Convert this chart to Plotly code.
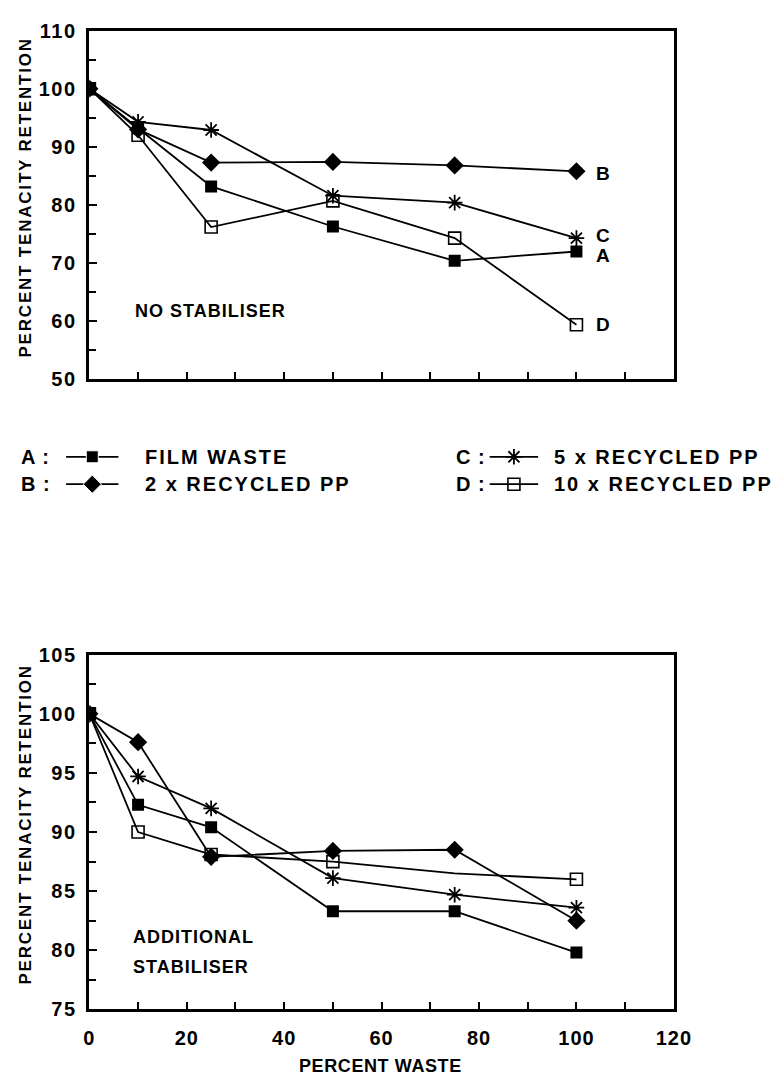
import plotly.graph_objects as go

# Percent of waste material blended in
waste_pct = [0, 10, 25, 50, 75, 100]

series_names = ["FILM WASTE", "2 x RECYCLED PP", "5 x RECYCLED PP", "10 x RECYCLED PP"]
series_keys = ["A", "B", "C", "D"]

# Tenacity retention (%), no stabiliser
ns_film = [100, 93.2, 83.2, 76.3, 70.4, 72.0]
ns_2x = [100, 93.0, 87.3, 87.4, 86.8, 85.8]
ns_5x = [100, 94.3, 92.9, 81.6, 80.4, 74.3]
ns_10x = [100, 92.0, 76.2, 80.7, 74.3, 59.4]

# Tenacity retention (%), additional stabiliser
as_film = [100, 92.3, 90.4, 83.3, 83.3, 79.8]
as_2x = [100, 97.6, 87.9, 88.4, 88.5, 82.5]
as_5x = [100, 94.7, 92.0, 86.1, 84.7, 83.6]
as_10x = [100, 90.0, 88.1, 87.5, 86.5, 86.0]

top_yticks = [50, 60, 70, 80, 90, 100, 110]
bottom_yticks = [75, 80, 85, 90, 95, 100, 105]
bottom_xticks = [0, 20, 40, 60, 80, 100, 120]

FONT = "Liberation Sans, Arial, sans-serif"
INK = "black"
W, H = 782, 1086


def spaced(text, px):
    """Bold text with extra tracking."""
    return f'<b><span style="letter-spacing:{px}px">{text}</span></b>'


marker_styles = [
    dict(symbol="square", size=12, color=INK, opacity=1),
    dict(symbol="diamond", size=14, color=INK, opacity=1),
    dict(symbol="asterisk-open", size=13, color=INK, opacity=1, line=dict(width=1.8, color=INK)),
    dict(symbol="square-open", size=12, color=INK, opacity=1, line=dict(width=1.6, color=INK)),
]

fig = go.Figure()

top_sets = [ns_film, ns_2x, ns_5x, ns_10x]
bottom_sets = [as_film, as_2x, as_5x, as_10x]

for i, vals in enumerate(top_sets):
    fig.add_trace(go.Scatter(
        x=waste_pct, y=vals, mode="lines+markers", name=series_names[i],
        line=dict(color=INK, width=1.8), marker=marker_styles[i],
        xaxis="x", yaxis="y", showlegend=False, hoverinfo="x+y+name",
    ))

for i, vals in enumerate(bottom_sets):
    m = dict(marker_styles[i])
    if i == 3:
        sizes = [m["size"]] * len(vals)
        sizes[4] = 0  # bend in the line without a plotted symbol
        m["size"] = sizes
    fig.add_trace(go.Scatter(
        x=waste_pct, y=vals, mode="lines+markers", name=series_names[i],
        line=dict(color=INK, width=1.8), marker=m,
        xaxis="x2", yaxis="y2", showlegend=False, hoverinfo="x+y+name",
    ))

# Key glyphs, drawn on a page-sized pixel axis
key_rows = [455, 483, 455, 483]
key_lines = [(62, 116), (62, 116), (499, 549), (499, 549)]
for i in range(4):
    x0, x1 = key_lines[i]
    m = dict(marker_styles[i])
    m["size"] = [0, m["size"], 0]
    fig.add_trace(go.Scatter(
        x=[x0, (x0 + x1) / 2, x1], y=[key_rows[i]] * 3, mode="lines+markers",
        line=dict(color=INK, width=1.8), marker=m,
        xaxis="x3", yaxis="y3", showlegend=False, hoverinfo="skip",
    ))

px_x = lambda p: p / W
px_y = lambda p: 1 - p / H

axis_common = dict(
    showline=True, linecolor=INK, linewidth=2.5, mirror=True,
    ticks="inside", ticklen=8, tickwidth=1.5, tickcolor=INK,
    showgrid=False, zeroline=False,
    tickfont=dict(family=FONT, size=20, color=INK, weight="bold"),
)
minor_common = dict(ticks="inside", ticklen=7, tickwidth=1.5, tickcolor=INK)

fig.update_layout(
    width=W, height=H, autosize=False,
    margin=dict(l=0, r=0, t=0, b=0),
    paper_bgcolor="white", plot_bgcolor="rgba(0,0,0,0)",
    showlegend=False,
    xaxis=dict(domain=[px_x(86), px_x(689)], range=[0, 120], anchor="y",
               dtick=10, tick0=0, showticklabels=False, **axis_common),
    yaxis=dict(domain=[px_y(376), px_y(20)], range=[50, 110], anchor="x",
               tickvals=top_yticks,
               ticktext=[spaced(v, 1.5) for v in top_yticks],
               ticklabelstandoff=6,
               minor=dict(dtick=5, tick0=0, **minor_common),
               **axis_common),
    xaxis2=dict(domain=[px_x(86), px_x(689)], range=[0, 120], anchor="y2",
                tickvals=bottom_xticks,
                ticktext=[spaced(v, 1) for v in bottom_xticks],
                ticklabelstandoff=9,
                minor=dict(dtick=10, tick0=0, **dict(minor_common, ticklen=8)),
                **axis_common),
    yaxis2=dict(domain=[px_y(1019), px_y(657)], range=[75, 105], anchor="x2",
                tickvals=bottom_yticks,
                ticktext=[spaced(v, 1.5) for v in bottom_yticks],
                ticklabelstandoff=6,
                minor=dict(dtick=2.5, tick0=0, **minor_common),
                **axis_common),
    xaxis3=dict(domain=[0, 1], range=[0, W], anchor="y3", visible=False, fixedrange=True),
    yaxis3=dict(domain=[0, 1], range=[H, 0], anchor="x3", visible=False, fixedrange=True),
)

annotations = []

# Key letters and series names
key_letter_x = [13, 13, 462, 462]
key_text_x = [141, 141, 563, 563]
for i, k in enumerate(series_keys):
    annotations.append(dict(
        text=spaced(f"{k} :", 1), x=key_letter_x[i], y=key_rows[i], xref="x3", yref="y3",
        xanchor="left", yanchor="middle", showarrow=False,
        font=dict(family=FONT, size=20, color=INK),
    ))
    annotations.append(dict(
        text=spaced(series_names[i], 2), x=key_text_x[i], y=key_rows[i], xref="x3", yref="y3",
        xanchor="left", yanchor="middle", showarrow=False,
        font=dict(family=FONT, size=20, color=INK),
    ))

# Curve end labels on the upper panel
end_label_y = [71.3, 85.5, 74.7, 59.4]
for k, ly in zip(series_keys, end_label_y):
    annotations.append(dict(
        text=spaced(k, 1), x=103.6, y=ly, xref="x", yref="y",
        xanchor="left", yanchor="middle", showarrow=False,
        font=dict(family=FONT, size=19, color=INK),
    ))

annotations.append(dict(
    text=spaced("NO STABILISER", 1), x=8.9, y=61.7, xref="x", yref="y",
    xanchor="left", yanchor="middle", showarrow=False,
    font=dict(family=FONT, size=18, color=INK),
))
annotations.append(dict(
    text=spaced("ADDITIONAL", 1), x=8.6, y=81.1, xref="x2", yref="y2",
    xanchor="left", yanchor="middle", showarrow=False,
    font=dict(family=FONT, size=18, color=INK),
))
annotations.append(dict(
    text=spaced("STABILISER", 1), x=8.6, y=78.6, xref="x2", yref="y2",
    xanchor="left", yanchor="middle", showarrow=False,
    font=dict(family=FONT, size=18, color=INK),
))

# Axis titles
for cy in (190, 830):
    annotations.append(dict(
        text=spaced("PERCENT TENACITY RETENTION", 1.8), x=20, y=cy,
        xref="x3", yref="y3", xanchor="center", yanchor="middle",
        textangle=-90, showarrow=False,
        font=dict(family=FONT, size=17, color=INK),
    ))
annotations.append(dict(
    text=spaced("PERCENT WASTE", 0.6), x=386, y=1077,
    xref="x3", yref="y3", xanchor="center", yanchor="middle",
    showarrow=False, font=dict(family=FONT, size=18, color=INK),
))

fig.update_layout(annotations=annotations)

page_reset = (
    "document.documentElement.style.margin='0';"
    "document.documentElement.style.overflow='hidden';"
    "document.body.style.margin='0';"
    "document.body.style.overflow='hidden';"
)
fig.write_html("out.html", post_script=page_reset)
